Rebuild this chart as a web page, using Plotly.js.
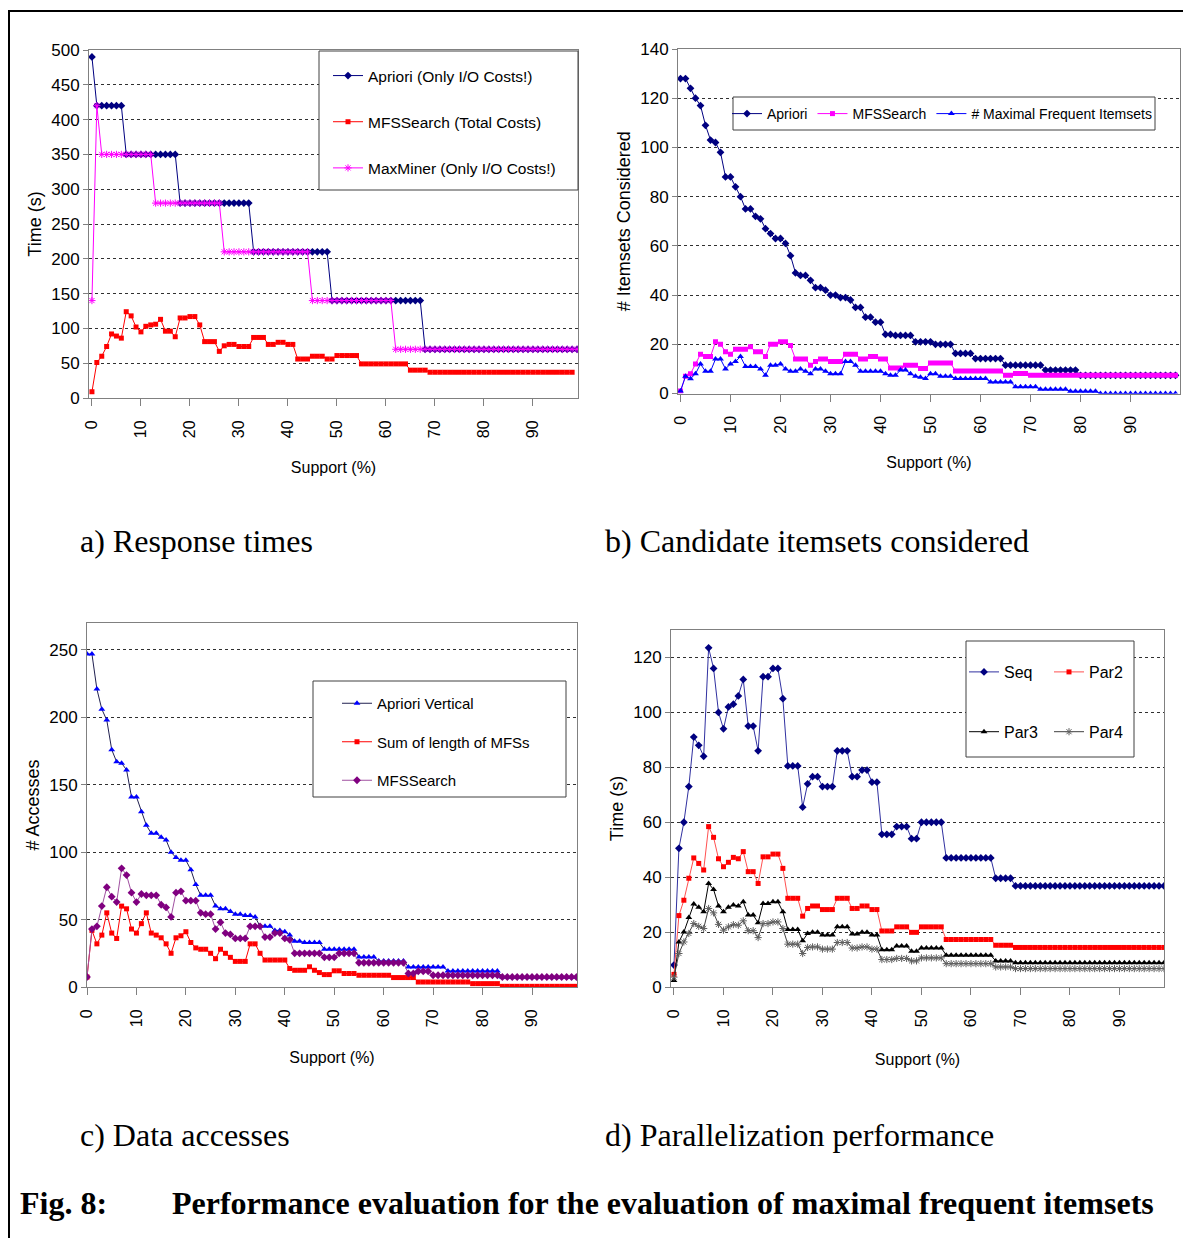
<!DOCTYPE html>
<html>
<head>
<meta charset="utf-8">
<script src="https://cdn.plot.ly/plotly-3.0.1.min.js"></script>
<style>html,body{margin:0;padding:0;background:#fff;}#chart{width:1183px;height:1238px;}</style>
</head>
<body>
<div id="chart"></div>
<script>
// ---------- shared x categories (support %) ----------
const support = [0,1,2,3,4,5,6,7,8,9,10,11,12,13,14,15,16,17,18,19,20,21,22,23,24,25,26,27,28,29,30,31,32,33,34,35,36,37,38,39,40,41,42,43,44,45,46,47,48,49,50,51,52,53,54,55,56,57,58,59,60,61,62,63,64,65,66,67,68,69,70,71,72,73,74,75,76,77,78,79,80,81,82,83,84,85,86,87,88,89,90,91,92,93,94,95,96,97,98,99];
const tickVals = [0,10,20,30,40,50,60,70,80,90];
const tickText = ["0","10","20","30","40","50","60","70","80","90"];

// ---------- a) Response times ----------
const aprioriTime = [490,420,420,420,420,420,420,350,350,350,350,350,350,350,350,350,350,350,280,280,280,280,280,280,280,280,280,280,280,280,280,280,280,210,210,210,210,210,210,210,210,210,210,210,210,210,210,210,210,140,140,140,140,140,140,140,140,140,140,140,140,140,140,140,140,140,140,140,70,70,70,70,70,70,70,70,70,70,70,70,70,70,70,70,70,70,70,70,70,70,70,70,70,70,70,70,70,70,70,70];
const mfsSearchTime = [9,51,60,74,92,89,86,124,118,102,95,103,105,106,113,96,96,88,115,115,117,117,105,81,81,81,67,75,77,77,74,74,74,87,87,87,77,77,80,80,77,77,56,56,56,60,60,60,56,56,61,61,61,61,61,49,49,49,49,49,49,49,49,49,49,40,40,40,40,37,37,37,37,37,37,37,37,37,37,37,37,37,37,37,37,37,37,37,37,37,37,37,37,37,37,37,37,37,37];
const maxMinerTime = [140,420,350,350,350,350,350,350,350,350,350,350,350,280,280,280,280,280,280,280,280,280,280,280,280,280,280,210,210,210,210,210,210,210,210,210,210,210,210,210,210,210,210,210,210,140,140,140,140,140,140,140,140,140,140,140,140,140,140,140,140,140,70,70,70,70,70,70,70,70,70,70,70,70,70,70,70,70,70,70,70,70,70,70,70,70,70,70,70,70,70,70,70,70,70,70,70,70,70,70];

// ---------- b) Candidate itemsets considered ----------
const aprioriCand = [128,128,124,120,117,109,103,102,98,88,88,84,80,75,75,72,71,67,65,63,63,61,56,49,48,48,46,43,43,42,40,40,39,39,38,35,35,31,31,29,29,24,24,23.6,23.6,23.6,23.6,21,21,21,21,20,20,20,20,16.3,16.3,16.3,16.3,14.2,14.2,14.2,14.2,14.2,14.2,11.5,11.5,11.5,11.5,11.5,11.5,11.5,11.5,9.5,9.5,9.5,9.5,9.5,9.5,9.5,7.4,7.4,7.4,7.4,7.4,7.4,7.4,7.4,7.4,7.4,7.4,7.4,7.4,7.4,7.4,7.4,7.4,7.4,7.4,7.4];
const mfsSearchCand = [1,7,8,12,16,15,15,21,20,17,16,18,18,18,19,17,17,15,20,20,21,21,19.5,14,14,14,11.5,13,14,14,13,13,13,16,16,16,14,14,15,15,14,14,10.4,10.4,10.4,11.5,11.5,11.5,10.2,10.2,12.4,12.4,12.4,12.4,12.4,9.1,9.1,9.1,9.1,9.1,9.1,9.1,9.1,9.1,9.1,7.4,7.4,8.1,8.1,8.1,7.4,7.4,7.4,7.4,7.4,7.4,7.4,7.4,7.4,7.4,7.4,7.4,7.4,7.4,7.4,7.4,7.4,7.4,7.4,7.4,7.4,7.4,7.4,7.4,7.4,7.4,7.4,7.4,7.4,7.4];
const maximalCand = [1,7,6,8,12,9,9,14,14,10,12,13,15,11,11,11,10,7.4,11.5,11.5,12,10,9,9,10,9,8,10,10,9,8,8,8,13,13,11.5,9,9,9,9,9,8,7.4,7.4,9.5,9.5,8,7,6.6,6.1,8,8,7,7,7,6.1,6.1,6.1,6.1,6.1,6.1,6.1,4.7,4.7,4.7,4.7,4.7,2.7,2.7,2.7,2.7,2.7,1.7,1.7,1.7,1.7,1.7,1.7,0.9,0.9,0.9,0.9,0.9,0.9,0,0,0,0,0,0,0,0,0,0,0,0,0,0,0,0];

// ---------- c) Data accesses ----------
const aprioriVertAcc = [247,247,221,206,198,176,167,166,161,141,141,130,120,114,114,111,109,100,96,94,94,87,76,68,68,68,60,58,58,56,54,54,53,53,52,45,45,45,42,42,41,38.5,34,34,33,33,33,33,28,28,28,28,28,28,28,22.3,22.3,22.3,22.3,19.3,19.3,19.3,19.3,19.3,19.3,14.9,14.9,14.9,14.9,14.9,14.9,14.9,14.9,11.9,11.9,11.9,11.9,11.9,11.9,11.9,11.9,11.9,11.9,11.9,7.4,7.4,7.4,7.4,7.4,7.4,7.4,7.4,7.4,7.4,7.4,7.4,7.4,7.4,7.4,7.4];
const sumLenAcc = [7.4,42,32,38.5,55,40,36,60,58,43,40,47,55,40,38.5,36.5,32,25,36.5,38,41,33,29,28,28,25,21,28,25,22,19,19,19,32,32,25,20,20,20,20,20,13.7,12.4,12.4,12.4,15,12.4,10.7,9.2,9.2,12,12,10,10,10,8.7,8.7,8.7,8.7,8.7,8.7,8.7,7,7,7,7,7,3.7,3.7,3.7,3.7,3.7,3.7,3.7,3.7,3.7,3.7,3.7,2.5,2.5,2.5,2.5,2.5,2.5,0.5,0.5,0.5,0.5,0.5,0.5,0.5,0.5,0.5,0.5,0.5,0.5,0.5,0.5,0.5,0.5];
const mfsSearchAcc = [7.4,43,45,60,74,67,63,88,83,70,63,69,68,68,68,61,59,52,70,71,64,64,64,55,54,54,43,48,40,39,36,36,36,45,45,45,37,37,40,40,36,35,25,25,25,25,25,25,22,22,22,25,25,25,25,18,18,18,18,18,18,18,18,18,18,10,10,11.7,11.7,11.7,8.7,8.7,8.7,8.7,8.7,8.7,8.7,8.7,8.7,8.7,8.7,8.7,8.7,8.7,7.4,7.4,7.4,7.4,7.4,7.4,7.4,7.4,7.4,7.4,7.4,7.4,7.4,7.4,7.4,7.4];

// ---------- d) Parallelization performance ----------
const seqTime = [8,50.5,60,73,91,88,84,123.5,116,100,94,102,103,106,112,95,95,86,113,113,116,116,105,80.5,80.5,80.5,65.5,74,76.6,76.6,73,73,73,86,86,86,76.6,76.6,79,79,74.6,74.6,55.6,55.6,55.6,58.4,58.4,58.4,54,54,60,60,60,60,60,47,47,47,47,47,47,47,47,47,47,39.6,39.6,39.6,39.6,36.8,36.8,36.8,36.8,36.8,36.8,36.8,36.8,36.8,36.8,36.8,36.8,36.8,36.8,36.8,36.8,36.8,36.8,36.8,36.8,36.8,36.8,36.8,36.8,36.8,36.8,36.8,36.8,36.8,36.8,36.8];
const par2Time = [4.6,26,31.6,39.6,47,45,42.6,58.4,54.5,46.7,43.8,45.4,47.2,46.7,49.3,42,42,37.7,47.4,47.4,48.4,48.4,43.2,32.3,32.3,32.3,25.8,28.6,29.5,29.5,28.2,28.2,28.2,32.3,32.3,32.3,28.6,28.6,29.5,29.5,28.2,28.2,20.4,20.4,20.4,21.9,21.9,21.9,19.9,19.9,21.9,21.9,21.9,21.9,21.9,17.3,17.3,17.3,17.3,17.3,17.3,17.3,17.3,17.3,17.3,15.2,15.2,15.2,15.2,14.4,14.4,14.4,14.4,14.4,14.4,14.4,14.4,14.4,14.4,14.4,14.4,14.4,14.4,14.4,14.4,14.4,14.4,14.4,14.4,14.4,14.4,14.4,14.4,14.4,14.4,14.4,14.4,14.4,14.4,14.4];
const par3Time = [2.4,16.4,20,25.3,30.2,29,27.4,37.7,35.5,29.5,27.4,29,29.9,29.5,31,26.2,26.2,23.4,30.4,30.4,31,31,27.4,20.9,20.9,20.9,16.8,19.5,19.9,19.9,18.9,18.9,18.9,21.9,21.9,21.9,19.3,19.3,19.9,19.9,18.9,18.9,13.6,13.6,13.6,14.9,14.9,14.9,13,13,14.2,14.2,14.2,14.2,14.2,11.6,11.6,11.6,11.6,11.6,11.6,11.6,11.6,11.6,11.6,9.5,9.5,9.5,9.5,8.8,8.8,8.8,8.8,8.8,8.8,8.8,8.8,8.8,8.8,8.8,8.8,8.8,8.8,8.8,8.8,8.8,8.8,8.8,8.8,8.8,8.8,8.8,8.8,8.8,8.8,8.8,8.8,8.8,8.8,8.8];
const par4Time = [3.6,12.2,16.4,19.5,23.1,22.1,21.3,28.6,27,22.8,20.7,21.9,22.7,22.5,24.1,20.5,20.5,18,23.1,23.1,23.7,23.7,21.3,15.6,15.6,15.6,12.2,14.4,14.6,14.6,13.8,13.8,13.8,16.2,16.2,16.2,14.2,14.2,14.6,14.6,13.8,13.8,10,10,10,10.4,10.4,10.4,9.5,9.5,10.6,10.6,10.6,10.6,10.6,8.5,8.5,8.5,8.5,8.5,8.5,8.5,8.5,8.5,8.5,7.3,7.3,7.3,7.3,6.7,6.7,6.7,6.7,6.7,6.7,6.7,6.7,6.7,6.7,6.7,6.7,6.7,6.7,6.7,6.7,6.7,6.7,6.7,6.7,6.7,6.7,6.7,6.7,6.7,6.7,6.7,6.7,6.7,6.7,6.7];

// ---------- captions ----------
const captions = ["a) Response times","b) Candidate itemsets considered","c) Data accesses","d) Parallelization performance"];
const figLabel = "Fig. 8:";
const figTitle = "Performance evaluation for the evaluation of maximal frequent itemsets";

// ---------- styling helpers ----------
const W = 1183, H = 1238;
const px = v => v / W;
const py = v => 1 - v / H;
const SANS = "Liberation Sans, Arial, sans-serif";
const SERIF = "Liberation Serif, Times New Roman, serif";

function tr(y, name, xa, ya, leg, grp, lineColor, mSym, mColor, mSize, mLine) {
  const marker = {symbol: mSym, color: mColor, size: mSize};
  if (mLine) marker.line = {color: mLine, width: 1};
  return {x: support, y: y, name: name, type: 'scatter', mode: 'lines+markers',
    xaxis: xa, yaxis: ya, legend: leg, legendgroup: grp,
    line: {color: lineColor, width: 1}, marker: marker};
}

const traces = [
  tr(aprioriTime, "Apriori (Only I/O Costs!)", 'x', 'y', 'legend', 'a1', '#000080', 'diamond', '#000080', 6),
  tr(mfsSearchTime, "MFSSearch (Total Costs)", 'x', 'y', 'legend', 'a2', '#FF0000', 'square', '#FF0000', 5),
  tr(maxMinerTime, "MaxMiner (Only I/O Costs!)", 'x', 'y', 'legend', 'a3', '#FF00FF', 'asterisk-open', '#FF00FF', 6, '#FF00FF'),

  tr(aprioriCand, "Apriori", 'x2', 'y2', 'legend2', 'b1', '#000080', 'diamond', '#000080', 6),
  tr(mfsSearchCand, "MFSSearch", 'x2', 'y2', 'legend2', 'b2', '#FF00FF', 'square', '#FF00FF', 5),
  tr(maximalCand, "# Maximal Frequent Itemsets", 'x2', 'y2', 'legend2', 'b3', '#0000FF', 'triangle-up', '#0000FF', 6),

  tr(aprioriVertAcc, "Apriori Vertical", 'x3', 'y3', 'legend3', 'c1', '#202050', 'triangle-up', '#0000FF', 6),
  tr(sumLenAcc, "Sum of length of MFSs", 'x3', 'y3', 'legend3', 'c2', '#FF0000', 'square', '#FF0000', 5),
  tr(mfsSearchAcc, "MFSSearch", 'x3', 'y3', 'legend3', 'c3', '#A050A0', 'diamond', '#800080', 6),

  tr(seqTime, "Seq", 'x4', 'y4', 'legend4', 'd1', '#3030A0', 'diamond', '#000080', 6),
  tr(par2Time, "Par2", 'x4', 'y4', 'legend5', 'd2', '#FF5050', 'square', '#FF0000', 5),
  tr(par3Time, "Par3", 'x4', 'y4', 'legend4', 'd3', '#000000', 'triangle-up', '#000000', 6),
  tr(par4Time, "Par4", 'x4', 'y4', 'legend5', 'd4', '#404040', 'asterisk-open', '#606060', 6, '#606060')
];

function xAx(domain, anchor, range, standoff) {
  return {domain: domain, anchor: anchor, range: range, tickmode: 'array', tickvals: tickVals, ticktext: tickText,
    tickangle: -90, ticks: 'outside', ticklen: 7, tickcolor: '#808080', showline: true, linecolor: '#808080',
    mirror: true, showgrid: false, zeroline: false, automargin: false, ticklabelstandoff: 8,
    tickfont: {family: SANS, size: 16, color: '#000'},
    title: {text: 'Support (%)', font: {family: SANS, size: 16, color: '#000'}, standoff: standoff}};
}
function yAx(domain, anchor, range, dtick, title) {
  return {domain: domain, anchor: anchor, range: range, dtick: dtick, tick0: 0, ticks: 'outside', ticklen: 5,
    tickcolor: '#808080', showline: true, linecolor: '#808080', mirror: true, showgrid: true,
    gridcolor: '#303030', griddash: 'dot', gridwidth: 1, zeroline: false, automargin: false,
    tickfont: {family: SANS, size: 17, color: '#000'},
    title: {text: title, font: {family: SANS, size: 18, color: '#000'}, standoff: 4}};
}

const legendBase = {bgcolor: 'rgba(0,0,0,0)', borderwidth: 0,
  font: {family: SANS, size: 16, color: '#000'}, xanchor: 'left', yanchor: 'top', traceorder: 'grouped'};

function box(x0, y0, x1, y1) {
  return {type: 'rect', xref: 'paper', yref: 'paper', x0: px(x0), x1: px(x1), y0: py(y1), y1: py(y0),
    line: {color: '#404040', width: 1}, fillcolor: '#FFFFFF', layer: 'above'};
}

const layout = {
  width: W, height: H, margin: {l: 0, r: 0, t: 0, b: 0, autoexpand: false},
  paper_bgcolor: '#FFFFFF', plot_bgcolor: '#FFFFFF',
  xaxis: xAx([px(89), px(578)], 'y', [-0.6, 99.2], 24),
  yaxis: yAx([py(398), py(50)], 'x', [0, 500], 50, 'Time (s)'),
  xaxis2: xAx([px(678), px(1180)], 'y2', [-0.5, 99.9], 24),
  yaxis2: yAx([py(393.5), py(49)], 'x2', [0, 140], 20, '# Itemsets Considered'),
  xaxis3: xAx([px(87), px(577)], 'y3', [0, 99.1], 25),
  yaxis3: yAx([py(987), py(623)], 'x3', [0, 270], 50, '# Accesses'),
  xaxis4: xAx([px(671), px(1164)], 'y4', [-0.6, 99.0], 27),
  yaxis4: yAx([py(987), py(630)], 'x4', [0, 130], 20, 'Time (s)'),
  legend: Object.assign({}, legendBase, {x: px(328), y: py(59), tracegroupgap: 23, font: {family: SANS, size: 15.5, color: '#000'}}),
  legend2: Object.assign({}, legendBase, {x: px(727), y: py(98), orientation: 'h', font: {family: SANS, size: 14, color: '#000'}}),
  legend3: Object.assign({}, legendBase, {x: px(337), y: py(687), tracegroupgap: 16, font: {family: SANS, size: 15, color: '#000'}}),
  legend4: Object.assign({}, legendBase, {x: px(964), y: py(655), tracegroupgap: 36}),
  legend5: Object.assign({}, legendBase, {x: px(1049), y: py(655), tracegroupgap: 36}),
  shapes: [
    box(319, 51, 578, 190),
    box(733, 97, 1155, 130),
    box(313, 681, 566, 797),
    box(966, 641, 1134, 757),
    {type: 'rect', xref: 'paper', yref: 'paper', x0: px(9), x1: px(1200), y0: py(1260), y1: py(11),
      line: {color: '#000000', width: 2}, fillcolor: 'rgba(0,0,0,0)', layer: 'above'}
  ],
  annotations: [
    {text: captions[0], x: px(78), y: py(541)},
    {text: captions[1], x: px(603), y: py(541)},
    {text: captions[2], x: px(78), y: py(1135)},
    {text: captions[3], x: px(603), y: py(1135)},
    {text: '<b>' + figLabel + '</b>', x: px(18), y: py(1203)},
    {text: '<b>' + figTitle + '</b>', x: px(170), y: py(1203)}
  ].map(a => Object.assign({xref: 'paper', yref: 'paper', xanchor: 'left', yanchor: 'middle', showarrow: false,
    font: {family: SERIF, size: 32, color: '#000'}}, a)),
  showlegend: true
};

Plotly.newPlot('chart', traces, layout, {displayModeBar: false, staticPlot: true});
</script>
</body>
</html>
